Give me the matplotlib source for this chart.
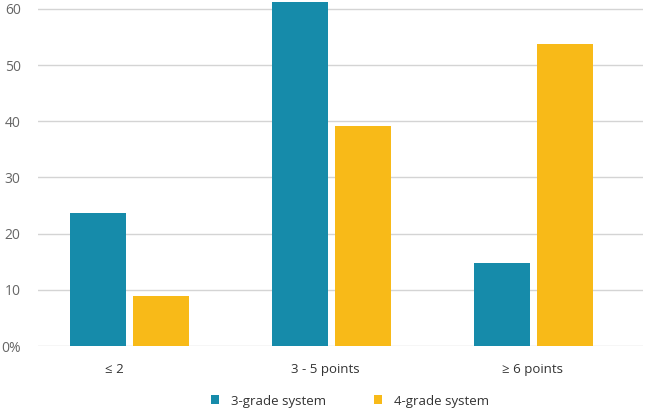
import numpy as np
import matplotlib
matplotlib.use("Agg")
import matplotlib.pyplot as plt
import matplotlib.transforms as mtransforms

categories = ["≤ 2", "3 - 5 points", "≥ 6 points"]
three_grade = [23.7, 61.2, 14.8]
four_grade = [8.9, 39.1, 53.7]
yticks = [0, 10, 20, 30, 40, 50, 60]
ytick_labels = ["0%", "10", "20", "30", "40", "50", "60"]

BLUE = "#168BAA"
YELLOW = "#F8BA18"
TEXT = "#666666"

plt.rcParams['font.family'] = ['Open Sans', 'DejaVu Sans']

fig = plt.figure(figsize=(6.46, 4.12), dpi=100)
ax = fig.add_axes([38 / 646, 1 - 346 / 412, 1 - 38 / 646 - 3 / 646, 346 / 412])

x = np.arange(len(categories))
w = 0.277
gap = 0.035
ax.bar(x - w / 2 - gap / 2, three_grade, w, color=BLUE, label="3-grade system", zorder=3)
ax.bar(x + w / 2 + gap / 2, four_grade, w, color=YELLOW, label="4-grade system", zorder=3)

ax.set_xlim(-0.455, 2.54)
ax.set_ylim(0, 61.6)
ax.set_yticks(yticks)
ax.set_yticklabels(ytick_labels)
ax.set_xticks(x)
ax.set_xticklabels(categories)
ax.yaxis.grid(True, color="#d4d4d4", linewidth=1.0, zorder=0)
ax.tick_params(axis="y", length=0, pad=12.5, labelsize=10, labelcolor=TEXT)
ax.tick_params(axis="x", length=0, pad=12, labelsize=9.5, labelcolor="#333333")
for s in ax.spines.values():
    s.set_visible(False)

# the labels in the original sit a little left of the group centres
shifts = [-16, -7, -1]
for lbl, dx in zip(ax.get_xticklabels(), shifts):
    off = mtransforms.ScaledTranslation(dx / 100, 0, fig.dpi_scale_trans)
    lbl.set_transform(lbl.get_transform() + off)

leg = fig.legend(loc="center", bbox_to_anchor=(350 / 646, 1 - 401 / 412), ncol=2,
                 frameon=False, handlelength=0.65, handleheight=0.65,
                 handletextpad=0.9, columnspacing=3.6, fontsize=9.5)
for t in leg.get_texts():
    t.set_color("#333333")

fig.savefig("out.png", dpi=100)
